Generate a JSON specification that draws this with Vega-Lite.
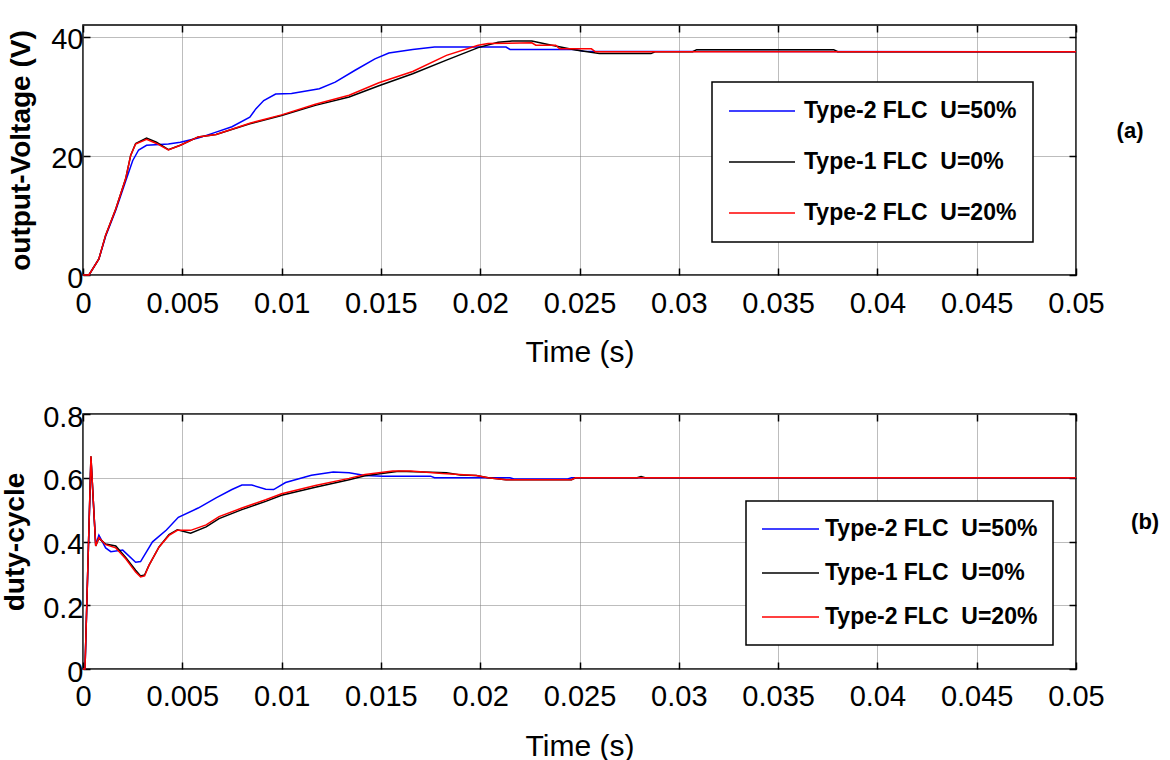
{
  "$schema": "https://vega.github.io/schema/vega-lite/v6.json",
  "padding": {"left": 0, "top": 23, "right": 5, "bottom": 5},
  "background": "white",
  "config": {
    "view": {"stroke": "black", "strokeWidth": 1.5},
    "axis": {
      "labelFont": "Liberation Sans", "labelFontSize": 29, "labelColor": "black",
      "titleFont": "Liberation Sans", "titleFontWeight": "normal", "titleColor": "black",
      "gridColor": "#7a7a7a", "gridDash": [1, 1], "gridOpacity": 1, "gridWidth": 1,
      "tickColor": "black", "tickSize": -7, "tickWidth": 1.5, "domain": false,
      "labelFlush": false, "labelOverlap": false
    },
    "legend": {"strokeWidth": 1.5}
  },
  "datasets": {
    "volt": [
      {"s": "Type-2 FLC\u00a0 U=50%", "t": 0, "v": 0},
      {"s": "Type-2 FLC\u00a0 U=50%", "t": 0.0003, "v": 0},
      {"s": "Type-2 FLC\u00a0 U=50%", "t": 0.0008, "v": 2.7},
      {"s": "Type-2 FLC\u00a0 U=50%", "t": 0.00114, "v": 6.5},
      {"s": "Type-2 FLC\u00a0 U=50%", "t": 0.00165, "v": 10.9},
      {"s": "Type-2 FLC\u00a0 U=50%", "t": 0.00215, "v": 15.8},
      {"s": "Type-2 FLC\u00a0 U=50%", "t": 0.0025, "v": 19.2},
      {"s": "Type-2 FLC\u00a0 U=50%", "t": 0.0028, "v": 21.0},
      {"s": "Type-2 FLC\u00a0 U=50%", "t": 0.0032, "v": 21.8},
      {"s": "Type-2 FLC\u00a0 U=50%", "t": 0.0043, "v": 22.0},
      {"s": "Type-2 FLC\u00a0 U=50%", "t": 0.0049, "v": 22.3},
      {"s": "Type-2 FLC\u00a0 U=50%", "t": 0.0058, "v": 23.0},
      {"s": "Type-2 FLC\u00a0 U=50%", "t": 0.0067, "v": 24.0},
      {"s": "Type-2 FLC\u00a0 U=50%", "t": 0.0075, "v": 24.9},
      {"s": "Type-2 FLC\u00a0 U=50%", "t": 0.0084, "v": 26.5},
      {"s": "Type-2 FLC\u00a0 U=50%", "t": 0.0087, "v": 27.9},
      {"s": "Type-2 FLC\u00a0 U=50%", "t": 0.0091, "v": 29.3},
      {"s": "Type-2 FLC\u00a0 U=50%", "t": 0.0097, "v": 30.4},
      {"s": "Type-2 FLC\u00a0 U=50%", "t": 0.0105, "v": 30.5},
      {"s": "Type-2 FLC\u00a0 U=50%", "t": 0.0119, "v": 31.3},
      {"s": "Type-2 FLC\u00a0 U=50%", "t": 0.0127, "v": 32.4},
      {"s": "Type-2 FLC\u00a0 U=50%", "t": 0.0137, "v": 34.4},
      {"s": "Type-2 FLC\u00a0 U=50%", "t": 0.0147, "v": 36.3},
      {"s": "Type-2 FLC\u00a0 U=50%", "t": 0.0154, "v": 37.3},
      {"s": "Type-2 FLC\u00a0 U=50%", "t": 0.0166, "v": 37.9},
      {"s": "Type-2 FLC\u00a0 U=50%", "t": 0.0177, "v": 38.3},
      {"s": "Type-2 FLC\u00a0 U=50%", "t": 0.0213, "v": 38.3},
      {"s": "Type-2 FLC\u00a0 U=50%", "t": 0.0215, "v": 37.9},
      {"s": "Type-2 FLC\u00a0 U=50%", "t": 0.0248, "v": 37.9},
      {"s": "Type-2 FLC\u00a0 U=50%", "t": 0.0252, "v": 37.6},
      {"s": "Type-2 FLC\u00a0 U=50%", "t": 0.05, "v": 37.5},
      {"s": "Type-1 FLC\u00a0 U=0%", "t": 0, "v": 0},
      {"s": "Type-1 FLC\u00a0 U=0%", "t": 0.0003, "v": 0},
      {"s": "Type-1 FLC\u00a0 U=0%", "t": 0.0008, "v": 2.7},
      {"s": "Type-1 FLC\u00a0 U=0%", "t": 0.00114, "v": 6.7},
      {"s": "Type-1 FLC\u00a0 U=0%", "t": 0.00165, "v": 11.1},
      {"s": "Type-1 FLC\u00a0 U=0%", "t": 0.00215, "v": 16.2},
      {"s": "Type-1 FLC\u00a0 U=0%", "t": 0.0024, "v": 20.1},
      {"s": "Type-1 FLC\u00a0 U=0%", "t": 0.00265, "v": 22.1},
      {"s": "Type-1 FLC\u00a0 U=0%", "t": 0.0032, "v": 23.0},
      {"s": "Type-1 FLC\u00a0 U=0%", "t": 0.0037, "v": 22.3},
      {"s": "Type-1 FLC\u00a0 U=0%", "t": 0.0043, "v": 21.05},
      {"s": "Type-1 FLC\u00a0 U=0%", "t": 0.0049, "v": 21.8},
      {"s": "Type-1 FLC\u00a0 U=0%", "t": 0.0058, "v": 23.2},
      {"s": "Type-1 FLC\u00a0 U=0%", "t": 0.0067, "v": 23.6},
      {"s": "Type-1 FLC\u00a0 U=0%", "t": 0.0084, "v": 25.4},
      {"s": "Type-1 FLC\u00a0 U=0%", "t": 0.01, "v": 26.8},
      {"s": "Type-1 FLC\u00a0 U=0%", "t": 0.0117, "v": 28.5},
      {"s": "Type-1 FLC\u00a0 U=0%", "t": 0.0134, "v": 29.9},
      {"s": "Type-1 FLC\u00a0 U=0%", "t": 0.0149, "v": 31.8},
      {"s": "Type-1 FLC\u00a0 U=0%", "t": 0.0166, "v": 33.8},
      {"s": "Type-1 FLC\u00a0 U=0%", "t": 0.0183, "v": 36.1},
      {"s": "Type-1 FLC\u00a0 U=0%", "t": 0.0199, "v": 38.2},
      {"s": "Type-1 FLC\u00a0 U=0%", "t": 0.0209, "v": 39.1},
      {"s": "Type-1 FLC\u00a0 U=0%", "t": 0.0216, "v": 39.3},
      {"s": "Type-1 FLC\u00a0 U=0%", "t": 0.0226, "v": 39.3},
      {"s": "Type-1 FLC\u00a0 U=0%", "t": 0.0236, "v": 38.6},
      {"s": "Type-1 FLC\u00a0 U=0%", "t": 0.0248, "v": 37.8},
      {"s": "Type-1 FLC\u00a0 U=0%", "t": 0.026, "v": 37.2},
      {"s": "Type-1 FLC\u00a0 U=0%", "t": 0.0286, "v": 37.2},
      {"s": "Type-1 FLC\u00a0 U=0%", "t": 0.0288, "v": 37.5},
      {"s": "Type-1 FLC\u00a0 U=0%", "t": 0.0307, "v": 37.5},
      {"s": "Type-1 FLC\u00a0 U=0%", "t": 0.0309, "v": 37.85},
      {"s": "Type-1 FLC\u00a0 U=0%", "t": 0.0378, "v": 37.85},
      {"s": "Type-1 FLC\u00a0 U=0%", "t": 0.038, "v": 37.5},
      {"s": "Type-1 FLC\u00a0 U=0%", "t": 0.05, "v": 37.5},
      {"s": "Type-2 FLC\u00a0 U=20%", "t": 0, "v": 0},
      {"s": "Type-2 FLC\u00a0 U=20%", "t": 0.0003, "v": 0},
      {"s": "Type-2 FLC\u00a0 U=20%", "t": 0.0008, "v": 2.7},
      {"s": "Type-2 FLC\u00a0 U=20%", "t": 0.00114, "v": 6.7},
      {"s": "Type-2 FLC\u00a0 U=20%", "t": 0.00165, "v": 11.1},
      {"s": "Type-2 FLC\u00a0 U=20%", "t": 0.00215, "v": 16.2},
      {"s": "Type-2 FLC\u00a0 U=20%", "t": 0.0024, "v": 20.1},
      {"s": "Type-2 FLC\u00a0 U=20%", "t": 0.00265, "v": 22.0},
      {"s": "Type-2 FLC\u00a0 U=20%", "t": 0.0032, "v": 22.8},
      {"s": "Type-2 FLC\u00a0 U=20%", "t": 0.0037, "v": 22.1},
      {"s": "Type-2 FLC\u00a0 U=20%", "t": 0.0043, "v": 21.0},
      {"s": "Type-2 FLC\u00a0 U=20%", "t": 0.0049, "v": 21.8},
      {"s": "Type-2 FLC\u00a0 U=20%", "t": 0.0058, "v": 23.2},
      {"s": "Type-2 FLC\u00a0 U=20%", "t": 0.0067, "v": 23.6},
      {"s": "Type-2 FLC\u00a0 U=20%", "t": 0.0084, "v": 25.5},
      {"s": "Type-2 FLC\u00a0 U=20%", "t": 0.01, "v": 26.9},
      {"s": "Type-2 FLC\u00a0 U=20%", "t": 0.0117, "v": 28.7},
      {"s": "Type-2 FLC\u00a0 U=20%", "t": 0.0134, "v": 30.2},
      {"s": "Type-2 FLC\u00a0 U=20%", "t": 0.0149, "v": 32.3},
      {"s": "Type-2 FLC\u00a0 U=20%", "t": 0.0166, "v": 34.2},
      {"s": "Type-2 FLC\u00a0 U=20%", "t": 0.0183, "v": 36.9},
      {"s": "Type-2 FLC\u00a0 U=20%", "t": 0.0199, "v": 38.6},
      {"s": "Type-2 FLC\u00a0 U=20%", "t": 0.0204, "v": 38.9},
      {"s": "Type-2 FLC\u00a0 U=20%", "t": 0.0226, "v": 39.0},
      {"s": "Type-2 FLC\u00a0 U=20%", "t": 0.0228, "v": 38.6},
      {"s": "Type-2 FLC\u00a0 U=20%", "t": 0.0238, "v": 38.6},
      {"s": "Type-2 FLC\u00a0 U=20%", "t": 0.024, "v": 38.0},
      {"s": "Type-2 FLC\u00a0 U=20%", "t": 0.0256, "v": 38.0},
      {"s": "Type-2 FLC\u00a0 U=20%", "t": 0.0258, "v": 37.5},
      {"s": "Type-2 FLC\u00a0 U=20%", "t": 0.05, "v": 37.5}
    ],
    "duty": [
      {"s": "Type-2 FLC\u00a0 U=50%", "t": 0, "v": 0},
      {"s": "Type-2 FLC\u00a0 U=50%", "t": 0.0001, "v": 0},
      {"s": "Type-2 FLC\u00a0 U=50%", "t": 0.0004, "v": 0.66},
      {"s": "Type-2 FLC\u00a0 U=50%", "t": 0.00064, "v": 0.39},
      {"s": "Type-2 FLC\u00a0 U=50%", "t": 0.0008, "v": 0.42},
      {"s": "Type-2 FLC\u00a0 U=50%", "t": 0.00114, "v": 0.38},
      {"s": "Type-2 FLC\u00a0 U=50%", "t": 0.0014, "v": 0.368},
      {"s": "Type-2 FLC\u00a0 U=50%", "t": 0.002, "v": 0.373},
      {"s": "Type-2 FLC\u00a0 U=50%", "t": 0.00265, "v": 0.335},
      {"s": "Type-2 FLC\u00a0 U=50%", "t": 0.0029, "v": 0.337},
      {"s": "Type-2 FLC\u00a0 U=50%", "t": 0.0035, "v": 0.399},
      {"s": "Type-2 FLC\u00a0 U=50%", "t": 0.0042, "v": 0.436},
      {"s": "Type-2 FLC\u00a0 U=50%", "t": 0.0048, "v": 0.476},
      {"s": "Type-2 FLC\u00a0 U=50%", "t": 0.0058, "v": 0.505},
      {"s": "Type-2 FLC\u00a0 U=50%", "t": 0.0067, "v": 0.537},
      {"s": "Type-2 FLC\u00a0 U=50%", "t": 0.0075, "v": 0.563},
      {"s": "Type-2 FLC\u00a0 U=50%", "t": 0.008, "v": 0.577},
      {"s": "Type-2 FLC\u00a0 U=50%", "t": 0.0085, "v": 0.577},
      {"s": "Type-2 FLC\u00a0 U=50%", "t": 0.0092, "v": 0.564},
      {"s": "Type-2 FLC\u00a0 U=50%", "t": 0.0096, "v": 0.563},
      {"s": "Type-2 FLC\u00a0 U=50%", "t": 0.0102, "v": 0.585},
      {"s": "Type-2 FLC\u00a0 U=50%", "t": 0.0115, "v": 0.608},
      {"s": "Type-2 FLC\u00a0 U=50%", "t": 0.0126, "v": 0.618},
      {"s": "Type-2 FLC\u00a0 U=50%", "t": 0.0134, "v": 0.616},
      {"s": "Type-2 FLC\u00a0 U=50%", "t": 0.0142, "v": 0.607},
      {"s": "Type-2 FLC\u00a0 U=50%", "t": 0.0151, "v": 0.605},
      {"s": "Type-2 FLC\u00a0 U=50%", "t": 0.0175, "v": 0.605},
      {"s": "Type-2 FLC\u00a0 U=50%", "t": 0.0177, "v": 0.6},
      {"s": "Type-2 FLC\u00a0 U=50%", "t": 0.0215, "v": 0.6},
      {"s": "Type-2 FLC\u00a0 U=50%", "t": 0.0217, "v": 0.596},
      {"s": "Type-2 FLC\u00a0 U=50%", "t": 0.0244, "v": 0.596},
      {"s": "Type-2 FLC\u00a0 U=50%", "t": 0.0246, "v": 0.6},
      {"s": "Type-2 FLC\u00a0 U=50%", "t": 0.05, "v": 0.6},
      {"s": "Type-1 FLC\u00a0 U=0%", "t": 0, "v": 0},
      {"s": "Type-1 FLC\u00a0 U=0%", "t": 0.0001, "v": 0},
      {"s": "Type-1 FLC\u00a0 U=0%", "t": 0.0004, "v": 0.667},
      {"s": "Type-1 FLC\u00a0 U=0%", "t": 0.00064, "v": 0.386},
      {"s": "Type-1 FLC\u00a0 U=0%", "t": 0.0008, "v": 0.41},
      {"s": "Type-1 FLC\u00a0 U=0%", "t": 0.00114, "v": 0.392},
      {"s": "Type-1 FLC\u00a0 U=0%", "t": 0.00165, "v": 0.386},
      {"s": "Type-1 FLC\u00a0 U=0%", "t": 0.00215, "v": 0.35},
      {"s": "Type-1 FLC\u00a0 U=0%", "t": 0.00265, "v": 0.31},
      {"s": "Type-1 FLC\u00a0 U=0%", "t": 0.0029, "v": 0.292},
      {"s": "Type-1 FLC\u00a0 U=0%", "t": 0.0031, "v": 0.295},
      {"s": "Type-1 FLC\u00a0 U=0%", "t": 0.00332, "v": 0.325},
      {"s": "Type-1 FLC\u00a0 U=0%", "t": 0.00383, "v": 0.383},
      {"s": "Type-1 FLC\u00a0 U=0%", "t": 0.00433, "v": 0.422},
      {"s": "Type-1 FLC\u00a0 U=0%", "t": 0.00475, "v": 0.437},
      {"s": "Type-1 FLC\u00a0 U=0%", "t": 0.00542, "v": 0.426},
      {"s": "Type-1 FLC\u00a0 U=0%", "t": 0.0062, "v": 0.446},
      {"s": "Type-1 FLC\u00a0 U=0%", "t": 0.00685, "v": 0.472},
      {"s": "Type-1 FLC\u00a0 U=0%", "t": 0.008, "v": 0.5},
      {"s": "Type-1 FLC\u00a0 U=0%", "t": 0.0092, "v": 0.526},
      {"s": "Type-1 FLC\u00a0 U=0%", "t": 0.01, "v": 0.545},
      {"s": "Type-1 FLC\u00a0 U=0%", "t": 0.0117, "v": 0.57},
      {"s": "Type-1 FLC\u00a0 U=0%", "t": 0.0134, "v": 0.594},
      {"s": "Type-1 FLC\u00a0 U=0%", "t": 0.0142, "v": 0.606},
      {"s": "Type-1 FLC\u00a0 U=0%", "t": 0.0159, "v": 0.62},
      {"s": "Type-1 FLC\u00a0 U=0%", "t": 0.0183, "v": 0.616},
      {"s": "Type-1 FLC\u00a0 U=0%", "t": 0.019, "v": 0.609},
      {"s": "Type-1 FLC\u00a0 U=0%", "t": 0.0198, "v": 0.607},
      {"s": "Type-1 FLC\u00a0 U=0%", "t": 0.0204, "v": 0.6},
      {"s": "Type-1 FLC\u00a0 U=0%", "t": 0.0213, "v": 0.594},
      {"s": "Type-1 FLC\u00a0 U=0%", "t": 0.0246, "v": 0.594},
      {"s": "Type-1 FLC\u00a0 U=0%", "t": 0.0248, "v": 0.6},
      {"s": "Type-1 FLC\u00a0 U=0%", "t": 0.0279, "v": 0.6},
      {"s": "Type-1 FLC\u00a0 U=0%", "t": 0.0281, "v": 0.604},
      {"s": "Type-1 FLC\u00a0 U=0%", "t": 0.0283, "v": 0.6},
      {"s": "Type-1 FLC\u00a0 U=0%", "t": 0.05, "v": 0.6},
      {"s": "Type-2 FLC\u00a0 U=20%", "t": 0, "v": 0},
      {"s": "Type-2 FLC\u00a0 U=20%", "t": 0.0001, "v": 0},
      {"s": "Type-2 FLC\u00a0 U=20%", "t": 0.0004, "v": 0.667},
      {"s": "Type-2 FLC\u00a0 U=20%", "t": 0.00064, "v": 0.386},
      {"s": "Type-2 FLC\u00a0 U=20%", "t": 0.0008, "v": 0.412},
      {"s": "Type-2 FLC\u00a0 U=20%", "t": 0.00114, "v": 0.39},
      {"s": "Type-2 FLC\u00a0 U=20%", "t": 0.00165, "v": 0.38},
      {"s": "Type-2 FLC\u00a0 U=20%", "t": 0.00215, "v": 0.346},
      {"s": "Type-2 FLC\u00a0 U=20%", "t": 0.00265, "v": 0.304},
      {"s": "Type-2 FLC\u00a0 U=20%", "t": 0.0029, "v": 0.289},
      {"s": "Type-2 FLC\u00a0 U=20%", "t": 0.0031, "v": 0.292},
      {"s": "Type-2 FLC\u00a0 U=20%", "t": 0.00332, "v": 0.325},
      {"s": "Type-2 FLC\u00a0 U=20%", "t": 0.00383, "v": 0.383},
      {"s": "Type-2 FLC\u00a0 U=20%", "t": 0.00433, "v": 0.419},
      {"s": "Type-2 FLC\u00a0 U=20%", "t": 0.00475, "v": 0.435},
      {"s": "Type-2 FLC\u00a0 U=20%", "t": 0.00542, "v": 0.435},
      {"s": "Type-2 FLC\u00a0 U=20%", "t": 0.0062, "v": 0.452},
      {"s": "Type-2 FLC\u00a0 U=20%", "t": 0.00685, "v": 0.478},
      {"s": "Type-2 FLC\u00a0 U=20%", "t": 0.008, "v": 0.505},
      {"s": "Type-2 FLC\u00a0 U=20%", "t": 0.0092, "v": 0.531},
      {"s": "Type-2 FLC\u00a0 U=20%", "t": 0.01, "v": 0.55},
      {"s": "Type-2 FLC\u00a0 U=20%", "t": 0.0117, "v": 0.576},
      {"s": "Type-2 FLC\u00a0 U=20%", "t": 0.0134, "v": 0.598},
      {"s": "Type-2 FLC\u00a0 U=20%", "t": 0.0142, "v": 0.61},
      {"s": "Type-2 FLC\u00a0 U=20%", "t": 0.0156, "v": 0.621},
      {"s": "Type-2 FLC\u00a0 U=20%", "t": 0.0165, "v": 0.621},
      {"s": "Type-2 FLC\u00a0 U=20%", "t": 0.0181, "v": 0.613},
      {"s": "Type-2 FLC\u00a0 U=20%", "t": 0.0198, "v": 0.607},
      {"s": "Type-2 FLC\u00a0 U=20%", "t": 0.0204, "v": 0.6},
      {"s": "Type-2 FLC\u00a0 U=20%", "t": 0.0213, "v": 0.594},
      {"s": "Type-2 FLC\u00a0 U=20%", "t": 0.0246, "v": 0.594},
      {"s": "Type-2 FLC\u00a0 U=20%", "t": 0.0248, "v": 0.6},
      {"s": "Type-2 FLC\u00a0 U=20%", "t": 0.05, "v": 0.6}
    ]
  },
  "bounds": "flush",
  "spacing": 139,
  "resolve": {"scale": {"color": "independent"}, "legend": {"color": "independent"}},
  "vconcat": [
    {
      "width": 993,
      "height": 250,
      "resolve": {"axis": {"x": "independent", "y": "independent"}},
      "layer": [
        {
          "data": {"name": "volt"},
          "mark": {"type": "line", "strokeWidth": 1.5},
          "encoding": {
            "x": {"field": "t", "type": "quantitative",
              "scale": {"domain": [0, 0.05], "nice": false},
              "axis": {"values": [0, 0.005, 0.01, 0.015, 0.02, 0.025, 0.03, 0.035, 0.04, 0.045, 0.05],
                "format": "~g", "title": "Time (s)", "titleFontSize": 30, "titleY": 86,
                "titleBaseline": "alphabetic", "labelBaseline": "alphabetic", "labelPadding": 44}},
            "y": {"field": "v", "type": "quantitative",
              "scale": {"domain": [0, 42], "nice": false},
              "axis": {"values": [0, 20, 40], "title": "output-Voltage (V)",
                "titleFont": "Liberation Sans", "titleFontWeight": "bold", "titleFontSize": 28,
                "titleX": -54, "titleBaseline": "alphabetic",
                "labelFontSize": 29, "labelBaseline": "middle", "labelOffset": 3, "labelPadding": 7}},
            "color": {"field": "s", "type": "nominal",
              "scale": {"domain": ["Type-2 FLC\u00a0 U=50%", "Type-1 FLC\u00a0 U=0%", "Type-2 FLC\u00a0 U=20%"],
                "range": ["#0000ff", "#000000", "#ff0000"]},
              "legend": {"title": null, "orient": "none", "legendX": 629, "legendY": 57,
                "symbolType": "stroke", "symbolSize": 4356, "symbolStrokeWidth": 1.5,
                "labelFont": "Liberation Sans", "labelFontWeight": "bold", "labelFontSize": 23,
                "labelColor": "black", "labelLimit": 400, "labelOffset": 8, "clipHeight": 26,
                "strokeColor": "black", "fillColor": "white", "padding": 16, "rowPadding": 25}}
          }
        },
        {
          "data": {"values": [{"t": 0.05272, "v": 24.2, "label": "(a)"}]},
          "mark": {"type": "text", "font": "Liberation Sans", "fontWeight": "bold", "fontSize": 22, "color": "black"},
          "encoding": {
            "x": {"field": "t", "type": "quantitative",
              "axis": {"orient": "top", "labels": false, "title": null, "grid": false,
                "values": [0, 0.005, 0.01, 0.015, 0.02, 0.025, 0.03, 0.035, 0.04, 0.045, 0.05]}},
            "y": {"field": "v", "type": "quantitative",
              "axis": {"orient": "right", "labels": false, "title": null, "grid": false, "values": [0, 20, 40]}},
            "text": {"field": "label"}
          }
        }
      ]
    },
    {
      "width": 993,
      "height": 255,
      "resolve": {"axis": {"x": "independent", "y": "independent"}},
      "layer": [
        {
          "data": {"name": "duty"},
          "mark": {"type": "line", "strokeWidth": 1.5},
          "encoding": {
            "x": {"field": "t", "type": "quantitative",
              "scale": {"domain": [0, 0.05], "nice": false},
              "axis": {"values": [0, 0.005, 0.01, 0.015, 0.02, 0.025, 0.03, 0.035, 0.04, 0.045, 0.05],
                "format": "~g", "title": "Time (s)", "titleFontSize": 30, "titleY": 86,
                "titleBaseline": "alphabetic", "labelBaseline": "alphabetic", "labelPadding": 43}},
            "y": {"field": "v", "type": "quantitative",
              "scale": {"domain": [0, 0.8], "nice": false},
              "axis": {"values": [0, 0.2, 0.4, 0.6, 0.8], "format": "~g", "title": "duty-cycle",
                "titleFont": "Liberation Sans", "titleFontWeight": "bold", "titleFontSize": 28,
                "titleX": -60, "titleBaseline": "alphabetic",
                "labelFontSize": 29, "labelBaseline": "middle", "labelOffset": 3, "labelPadding": 7}},
            "color": {"field": "s", "type": "nominal",
              "scale": {"domain": ["Type-2 FLC\u00a0 U=50%", "Type-1 FLC\u00a0 U=0%", "Type-2 FLC\u00a0 U=20%"],
                "range": ["#0000ff", "#000000", "#ff0000"]},
              "legend": {"title": null, "orient": "none", "legendX": 663, "legendY": 87,
                "symbolType": "stroke", "symbolSize": 3249, "symbolStrokeWidth": 1.5,
                "labelFont": "Liberation Sans", "labelFontWeight": "bold", "labelFontSize": 23,
                "labelColor": "black", "labelLimit": 400, "labelOffset": 5, "clipHeight": 26,
                "strokeColor": "black", "fillColor": "white", "padding": 15, "rowPadding": 18}}
          }
        },
        {
          "data": {"values": [{"t": 0.05348, "v": 0.461, "label": "(b)"}]},
          "mark": {"type": "text", "font": "Liberation Sans", "fontWeight": "bold", "fontSize": 22, "color": "black"},
          "encoding": {
            "x": {"field": "t", "type": "quantitative",
              "axis": {"orient": "top", "labels": false, "title": null, "grid": false,
                "values": [0, 0.005, 0.01, 0.015, 0.02, 0.025, 0.03, 0.035, 0.04, 0.045, 0.05]}},
            "y": {"field": "v", "type": "quantitative",
              "axis": {"orient": "right", "labels": false, "title": null, "grid": false, "values": [0, 0.2, 0.4, 0.6, 0.8]}},
            "text": {"field": "label"}
          }
        }
      ]
    }
  ]
}
